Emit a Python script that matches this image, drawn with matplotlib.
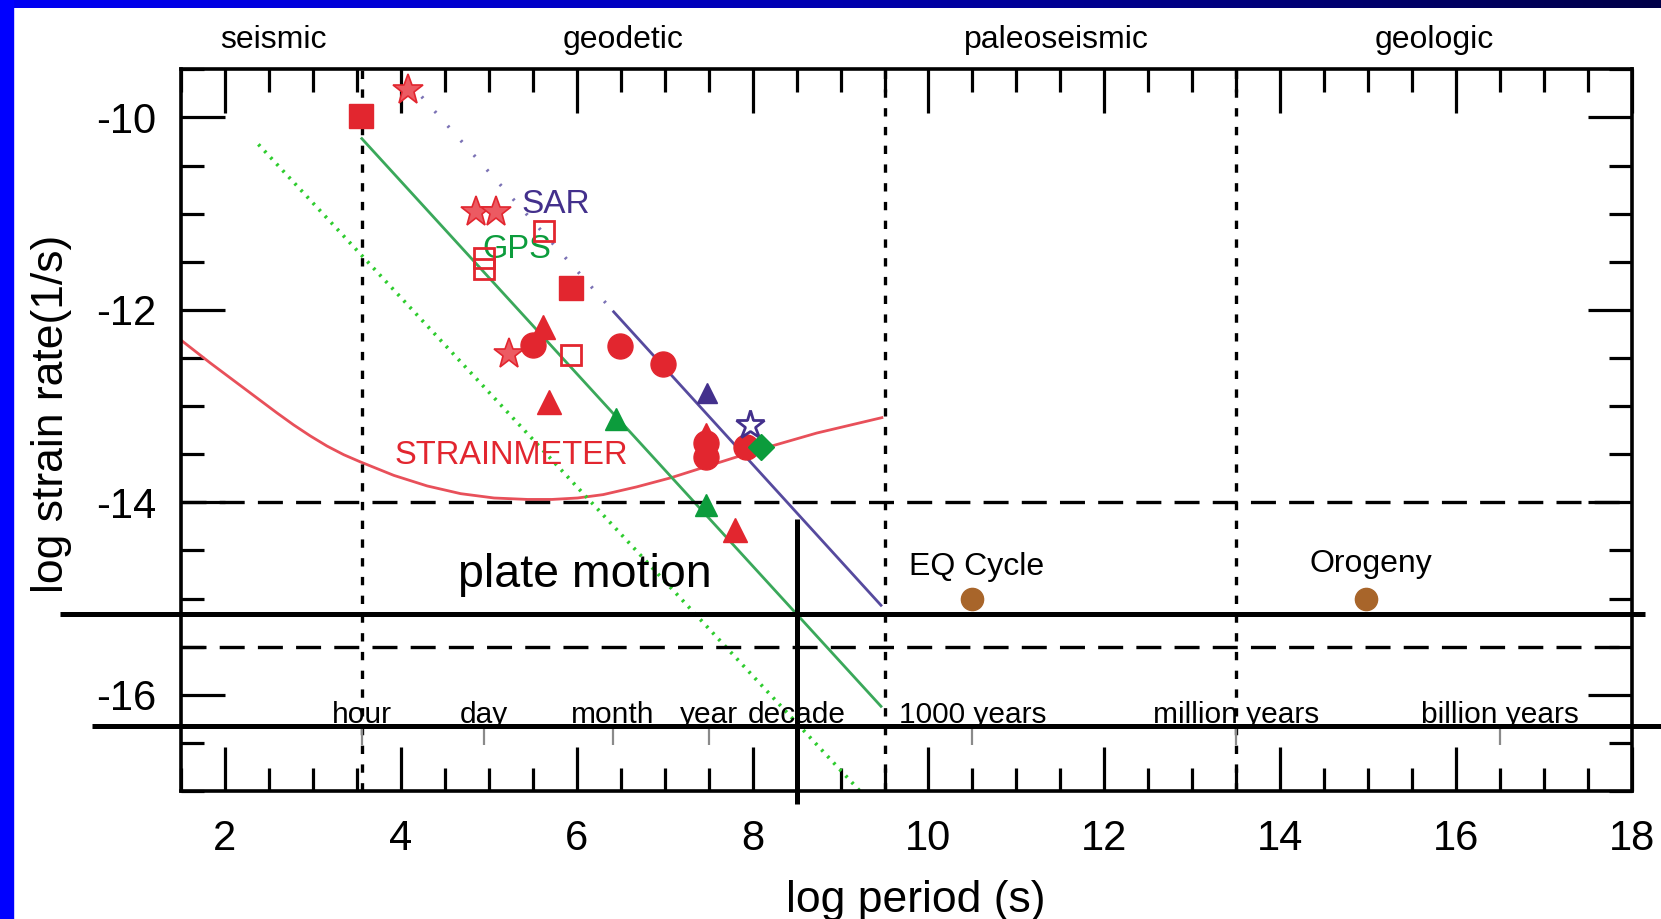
import numpy as np
import matplotlib
matplotlib.use('Agg')
import matplotlib.pyplot as plt
from matplotlib.ticker import MultipleLocator, FixedLocator
from matplotlib.transforms import blended_transform_factory
from matplotlib.patches import Rectangle
from matplotlib.colors import LinearSegmentedColormap

plt.rcParams['font.family'] = ['Liberation Sans', 'DejaVu Sans']
plt.rcParams['axes.unicode_minus'] = False
plt.rcParams['lines.scale_dashes'] = False

# ---------------- data ----------------
region_bounds = [3.556, 9.5, 13.5]
region_names = ['seismic', 'geodetic', 'paleoseismic', 'geologic']
region_centers = [2.55, 6.53, 11.45, 15.75]

time_names = ['hour', 'day', 'month', 'year', 'decade',
              '1000 years', 'million years', 'billion years']
time_logs = [3.556, 4.94, 6.41, 7.5, 8.5, 10.5, 13.5, 16.5]

strain_x = [1.48, 1.83, 2.21, 2.59, 2.78, 2.97, 3.16, 3.35, 3.54, 3.92,
            4.30, 4.68, 5.06, 5.44, 5.72, 6.01, 6.30, 6.68, 7.07, 7.64,
            8.16, 8.73, 9.47]
strain_y = [-12.30, -12.55, -12.81, -13.07, -13.195, -13.31, -13.415, -13.505,
            -13.58, -13.72, -13.83, -13.91, -13.955, -13.97, -13.97, -13.955,
            -13.92, -13.84, -13.745, -13.58, -13.43, -13.28, -13.12]

gps_x = [3.556, 9.46]
gps_y = [-10.22, -16.12]

sar_dot_x = [3.94, 6.42]
sar_dot_y = [-9.48, -12.02]
sar_x = [6.42, 9.46]
sar_y = [-12.02, -15.07]

limit_x = [2.38, 9.22]
limit_y = [-10.28, -17.0]

red_sq_x = [3.545, 5.94]
red_sq_y = [-9.99, -11.77]
red_open_sq_x = [5.63, 4.94, 4.94, 5.93]
red_open_sq_y = [-11.18, -11.46, -11.58, -12.47]
red_star_x = [4.08, 4.86, 5.08, 5.23]
red_star_y = [-9.72, -10.98, -10.98, -12.46]
red_circ_x = [5.50, 6.49, 6.98, 7.47, 7.47, 7.93]
red_circ_y = [-12.37, -12.38, -12.565, -13.38, -13.53, -13.43]
red_tri_x = [5.62, 5.69, 7.47, 7.80]
red_tri_y = [-12.18, -12.96, -13.30, -14.29]
sar_tri_x = [7.48]
sar_tri_y = [-12.86]
sar_star_x = [7.97]
sar_star_y = [-13.20]
gps_tri_x = [6.45, 7.47]
gps_tri_y = [-13.13, -14.03]
gps_dia_x = [8.10]
gps_dia_y = [-13.43]
geo_x = [10.49, 14.97]
geo_y = [-15.0, -15.0]
geo_names = ['EQ Cycle', 'Orogeny']

dash_levels = [-14.0, -15.5]
plate_rate = -15.16
time_axis_level = -16.32
decade_log = 8.5

# ---------------- colours ----------------
RED = '#e2262f'
PURPLE = '#43308c'
PURPLE_L = '#7b72b5'
GREEN = '#0c9c3c'
GREEN_L = '#3aa85a'
GREEN_B = '#2ecc2e'
BROWN = '#a8652a'
CURVE = '#e8505a'

W, H = 1661, 919
fig = plt.figure(figsize=(W / 100, H / 100), dpi=100)
fig.patch.set_facecolor('white')
ax = fig.add_axes([181 / W, 1 - 791 / H, (1632 - 181) / W, (791 - 69.3) / H])

ax.set_xlim(1.5, 18)
ax.set_ylim(-17, -9.5)

# region boundaries
for xb in region_bounds:
    ax.axvline(xb, color='k', lw=2.4, ls=(0, (6, 7.5)), zorder=3)
for yl in dash_levels:
    ax.axhline(yl, color='k', lw=2.4, ls=(0, (18, 9.5)), zorder=3)

# curves
ax.plot(strain_x, strain_y, color=CURVE, lw=2.0, zorder=2, solid_joinstyle='round')
ax.plot(limit_x, limit_y, color=GREEN_B, lw=2.6, ls=(0, (1.8, 4.6)), zorder=2)
ax.plot(gps_x, gps_y, color=GREEN_L, lw=2.0, zorder=2)
ax.plot(sar_dot_x, sar_dot_y, color=PURPLE_L, lw=2.4, ls=(0, (1.6, 12.5)), zorder=2)
ax.plot(sar_x, sar_y, color='#564a9e', lw=2.0, zorder=2)

# thick black reference lines (extending beyond axes)
ax.plot([0.12, 18.15], [plate_rate, plate_rate], color='k', lw=3.6,
        clip_on=False, zorder=4, solid_capstyle='butt')
ax.plot([0.49, 18.6], [time_axis_level, time_axis_level], color='k', lw=3.6,
        clip_on=False, zorder=4, solid_capstyle='butt')
ax.plot([decade_log, decade_log], [-14.17, -17.14], color='k', lw=3.6,
        clip_on=False, zorder=4, solid_capstyle='butt')

# time scale labels
for name, t in zip(time_names, time_logs):
    ax.text(t, time_axis_level + 0.03, name, ha='center', va='baseline',
            fontsize=21.5, color='k', zorder=3.5)
ax.vlines(time_logs, time_axis_level - 0.2, time_axis_level - 0.04,
          color='#8a8a8a', lw=1.6, zorder=3)

# markers
ms_kw = dict(ls='none', zorder=6)
ax.plot(red_sq_x, red_sq_y, marker='s', ms=17, mfc=RED, mec=RED, mew=1, **ms_kw)
ax.plot(red_open_sq_x, red_open_sq_y, marker='s', ms=14, mfc='none', mec=RED,
        mew=2.0, **ms_kw)
ax.plot(red_star_x, red_star_y, marker='*', ms=23, mfc='#ec5a62', mec=RED,
        mew=1.2, **ms_kw)
ax.plot(red_circ_x, red_circ_y, marker='o', ms=18, mfc=RED, mec=RED, mew=1, **ms_kw)
ax.plot(red_tri_x, red_tri_y, marker='^', ms=17, mfc=RED, mec=RED, mew=1, **ms_kw)
ax.plot(sar_tri_x, sar_tri_y, marker='^', ms=15, mfc=PURPLE, mec=PURPLE, mew=1, **ms_kw)
ax.plot(sar_star_x, sar_star_y, marker='*', ms=21, mfc='white', mec=PURPLE,
        mew=2.0, **ms_kw)
ax.plot(gps_tri_x, gps_tri_y, marker='^', ms=16, mfc=GREEN, mec=GREEN, mew=1, **ms_kw)
ax.plot(gps_dia_x, gps_dia_y, marker='D', ms=13.5, mfc=GREEN, mec=GREEN, mew=1, **ms_kw)
ax.plot(geo_x, geo_y, marker='o', ms=16, mfc=BROWN, mec=BROWN, mew=1, **ms_kw)

# annotations
ax.text(5.37, -10.99, 'SAR', color=PURPLE, fontsize=24, ha='left', va='baseline', zorder=5)
ax.text(4.93, -11.46, 'GPS', color=GREEN, fontsize=23.5, ha='left', va='baseline', zorder=5)
ax.text(3.93, -13.60, 'STRAINMETER', color=RED, fontsize=23.5, ha='left',
        va='baseline', zorder=5)
ax.text(4.65, -14.88, 'plate motion', color='k', fontsize=33.5, ha='left',
        va='baseline', zorder=5)
ax.text(9.78, -14.757, geo_names[0], color='k', fontsize=23, ha='left',
        va='baseline', zorder=5)
ax.text(14.33, -14.72, geo_names[1], color='k', fontsize=23, ha='left',
        va='baseline', zorder=5)

# region names above the axes
tr = blended_transform_factory(ax.transData, ax.transAxes)
for name, cx in zip(region_names, region_centers):
    ax.text(cx, 1.0302, name, transform=tr, ha='center', va='baseline',
            fontsize=23, color='k')

# ticks
ax.xaxis.set_major_locator(FixedLocator([2, 4, 6, 8, 10, 12, 14, 16, 18]))
ax.xaxis.set_minor_locator(MultipleLocator(0.5))
ax.yaxis.set_major_locator(FixedLocator([-16, -14, -12, -10]))
ax.yaxis.set_minor_locator(MultipleLocator(0.5))
ax.set_xticklabels([str(v) for v in [2, 4, 6, 8, 10, 12, 14, 16, 18]])
ax.set_yticklabels(['-16', '-14', '-12', '-10'])
ax.tick_params(which='both', direction='in', top=True, right=True,
               color='k', width=2.3)
ax.tick_params(which='major', length=32, labelsize=30)
ax.tick_params(which='minor', length=16.5)
ax.tick_params(axis='x', which='major', pad=20)
ax.tick_params(axis='y', which='major', pad=18)
for sp in ax.spines.values():
    sp.set_linewidth(2.6)
    sp.set_zorder(5)

fig.text(916 / W, 1 - 911.7 / H, 'log period (s)', ha='center', va='baseline',
         fontsize=32)
fig.text(52 / W, 1 - 413.5 / H, 'log strain rate(1/s)', ha='center', va='center',
         rotation=90, fontsize=32)

# slide frame: blue left bar and gradient top bar
fig.patches.append(Rectangle((0, 0), 12.7 / W, 1, transform=fig.transFigure,
                             color='#0000ff', zorder=10))
axg = fig.add_axes([0, 1 - 8 / H, 1, 8 / H])
grad = np.linspace(0, 1, 256).reshape(1, -1)
cmap = LinearSegmentedColormap.from_list('frame', ['#0000f4', '#0000b0', '#000048'])
axg.imshow(grad, aspect='auto', cmap=cmap)
axg.set_axis_off()

fig.savefig('out.png', dpi=100)
